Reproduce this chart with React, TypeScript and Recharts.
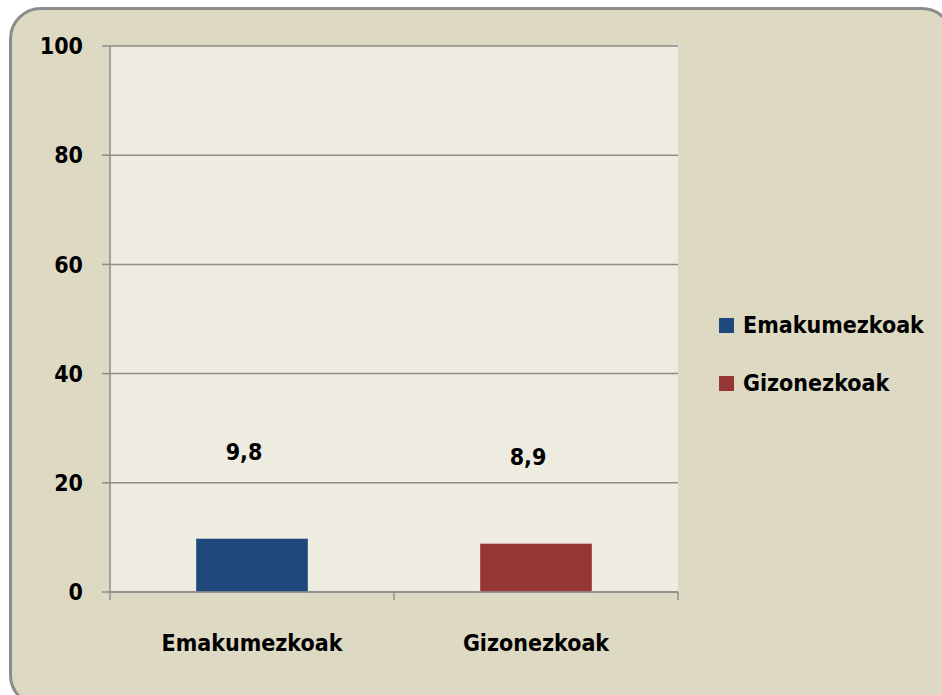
import { BarChart, Bar, XAxis, YAxis, CartesianGrid, Cell, LabelList } from 'recharts'

const categories = ['Emakumezkoak', 'Gizonezkoak']
const values = [9.8, 8.9]
const colors = ['#1f497d', '#953735']
const yTicks = [0, 20, 40, 60, 80, 100]

const data = categories.map((name, i) => ({ name, value: values[i] }))

const FONT = '"DejaVu Sans Condensed", "DejaVu Sans", sans-serif'
const AXIS = '#8c8c8c'
const WEIGHT = 'bold'
const SIZE = 23

function CategoryTick(props: any) {
  const { x, y, payload, index } = props
  const half = 142
  return (
    <g>
      <line x1={x - half} y1={y - 8} x2={x - half} y2={y} stroke={AXIS} strokeWidth={1.5} />
      {index === categories.length - 1 && (
        <line x1={x + half} y1={y - 8} x2={x + half} y2={y} stroke={AXIS} strokeWidth={1.5} />
      )}
      <text x={x} y={y + 43} textAnchor="middle" dominantBaseline="central" fontFamily={FONT} fontWeight={WEIGHT} fontSize={SIZE} fill="#000">
        {payload.value}
      </text>
    </g>
  )
}

function ValueLabel(props: any) {
  const { x, y, width, value } = props
  return (
    <text x={x + width / 2 - 8} y={y - 86} textAnchor="middle" dominantBaseline="central" fontFamily={FONT} fontWeight={WEIGHT} fontSize={SIZE} fill="#000">
      {String(value).replace('.', ',')}
    </text>
  )
}

export default function App() {
  return (
    <div style={{ position: 'absolute', left: 0, top: 0, width: 942, height: 695, overflow: 'hidden', background: '#fff' }}>
      <div
        style={{
          position: 'absolute',
          left: 9,
          top: 7,
          width: 945,
          height: 700,
          boxSizing: 'border-box',
          border: `3px solid ${AXIS}`,
          borderRadius: 32,
          background: '#ddd9c3',
        }}
      />
      <div style={{ position: 'absolute', left: 0, top: 0 }}>
        <BarChart width={942} height={695} data={data} margin={{ top: 46, right: 264, bottom: 0, left: 0 }} barCategoryGap="30%">
          <CartesianGrid vertical={false} fill="#eeece1" stroke={AXIS} strokeWidth={1.5} />
          <XAxis
            dataKey="name"
            axisLine={{ stroke: AXIS, strokeWidth: 1.5 }}
            tickLine={false}
            tick={<CategoryTick />}
            interval={0}
            height={103}
          />
          <YAxis
            domain={[0, 100]}
            ticks={yTicks}
            width={110}
            axisLine={{ stroke: AXIS, strokeWidth: 1.5 }}
            tickLine={{ stroke: AXIS, strokeWidth: 1.5 }}
            tickSize={8}
            tickMargin={19}
            tick={{ fontFamily: FONT, fontWeight: WEIGHT, fontSize: SIZE, fill: '#000' }}
          />
          <Bar dataKey="value" isAnimationActive={false} barSize={112} stroke="#ffffff55" strokeWidth={1}>
            {data.map((d, i) => (
              <Cell key={d.name} fill={colors[i]} />
            ))}
            <LabelList dataKey="value" content={<ValueLabel />} />
          </Bar>
        </BarChart>
      </div>
      <div style={{ position: 'absolute', left: 719, top: 306, fontFamily: FONT, fontWeight: WEIGHT, fontSize: SIZE, color: '#000' }}>
        {categories.map((c, i) => (
          <div key={c} style={{ display: 'flex', alignItems: 'center', height: 38, marginBottom: 20 }}>
            <span style={{ display: 'inline-block', width: 15, height: 15, background: colors[i], marginRight: 9 }} />
            <span>{c}</span>
          </div>
        ))}
      </div>
    </div>
  )
}
